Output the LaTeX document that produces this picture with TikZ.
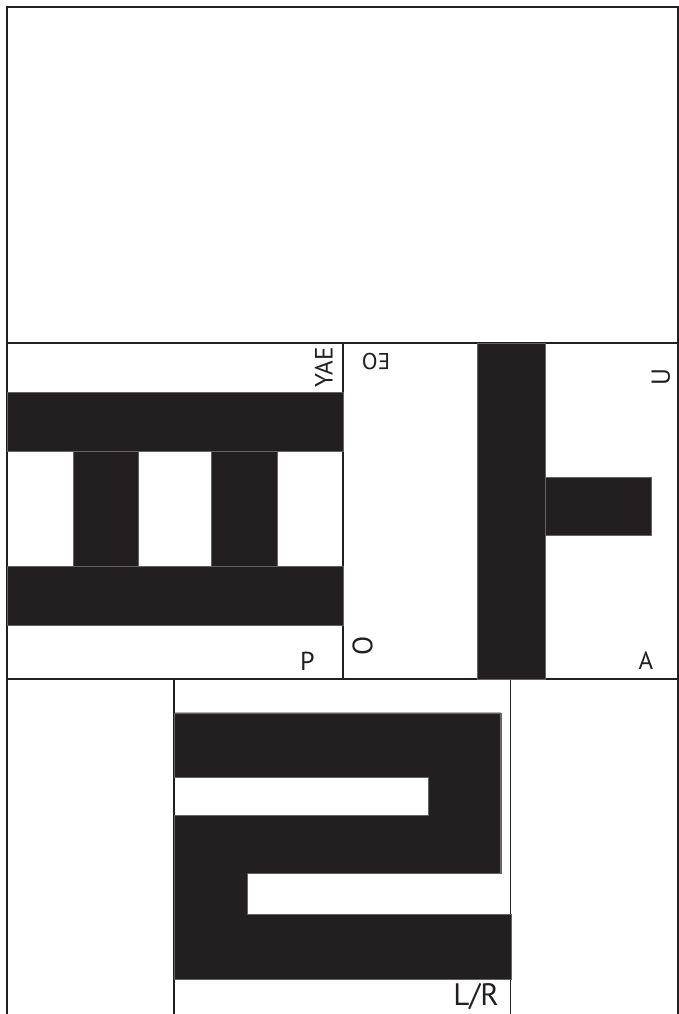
\documentclass[tikz,border=0pt]{standalone}
\usepackage{fontspec}
\setmainfont{PT Sans}
\usetikzlibrary{positioning}
\definecolor{inkblack}{HTML}{231F20}

\begin{document}
\begin{tikzpicture}[
  x=1pt, y=-1pt,
  frame/.style={draw=inkblack, line width=1.2pt},
  stroke/.style={fill=inkblack, draw=inkblack!70, line width=0.4pt},
  lbl/.style={inner sep=0pt, text=inkblack},
]
  \useasboundingbox (0,0) rectangle (679,1014);

  % frame and cells
  \draw[frame] (7,1014) -- (7,7) -- (678,7) -- (678,1014);
  \draw[frame] (7,343) -- (678,343);
  \draw[frame] (7,679) -- (678,679);
  \draw[frame] (343,343) -- (343,679);
  \draw[frame] (174,679) -- (174,1014);
  \draw[frame] (510.7,679) -- (510.7,1014);

  % p
  \fill[stroke] (7,391.7) rectangle (343,450.7);
  \fill[stroke] (7,565.7) rectangle (343,625);
  \fill[stroke] (72.7,450.7) rectangle (138,565.7);
  \fill[stroke] (210.7,450.7) rectangle (277.3,565.7);

  % a
  \fill[stroke] (476.7,343) rectangle (545,679);
  \fill[stroke] (545,476.7) rectangle (650.7,535);

  % l/r
  \fill[stroke] (174,712.7) -- (500.7,712.7) -- (500.7,873.3) -- (247.3,873.3)
    -- (247.3,914) -- (510.7,914) -- (510.7,979) -- (174,979) -- (174,815.3)
    -- (428.3,815.3) -- (428.3,777.3) -- (174,777.3) -- cycle;

  % labels
  \node[lbl, rotate=90, font=\fontsize{25}{30}\selectfont] (yae) at (323.8,367.5) {YAE};
  \node[lbl, font=\fontsize{26}{30}\selectfont] (p) at (307.5,661) {P};
  \node[lbl, rotate=180, font=\fontsize{23}{28}\selectfont] (eo) at (376,362) {EO};
  \node[lbl, rotate=90, font=\fontsize{28}{32}\selectfont] (o) at (362.5,645.7) {O};
  \node[lbl, rotate=90, font=\fontsize{26}{30}\selectfont] (u) at (661,377) {U};
  \node[lbl, font=\fontsize{25}{30}\selectfont] (a) at (646,661) {A};
  \node[lbl, anchor=base, font=\fontsize{31}{36}\selectfont] (lr) at (476,1005) {L/R};
\end{tikzpicture}
\end{document}
